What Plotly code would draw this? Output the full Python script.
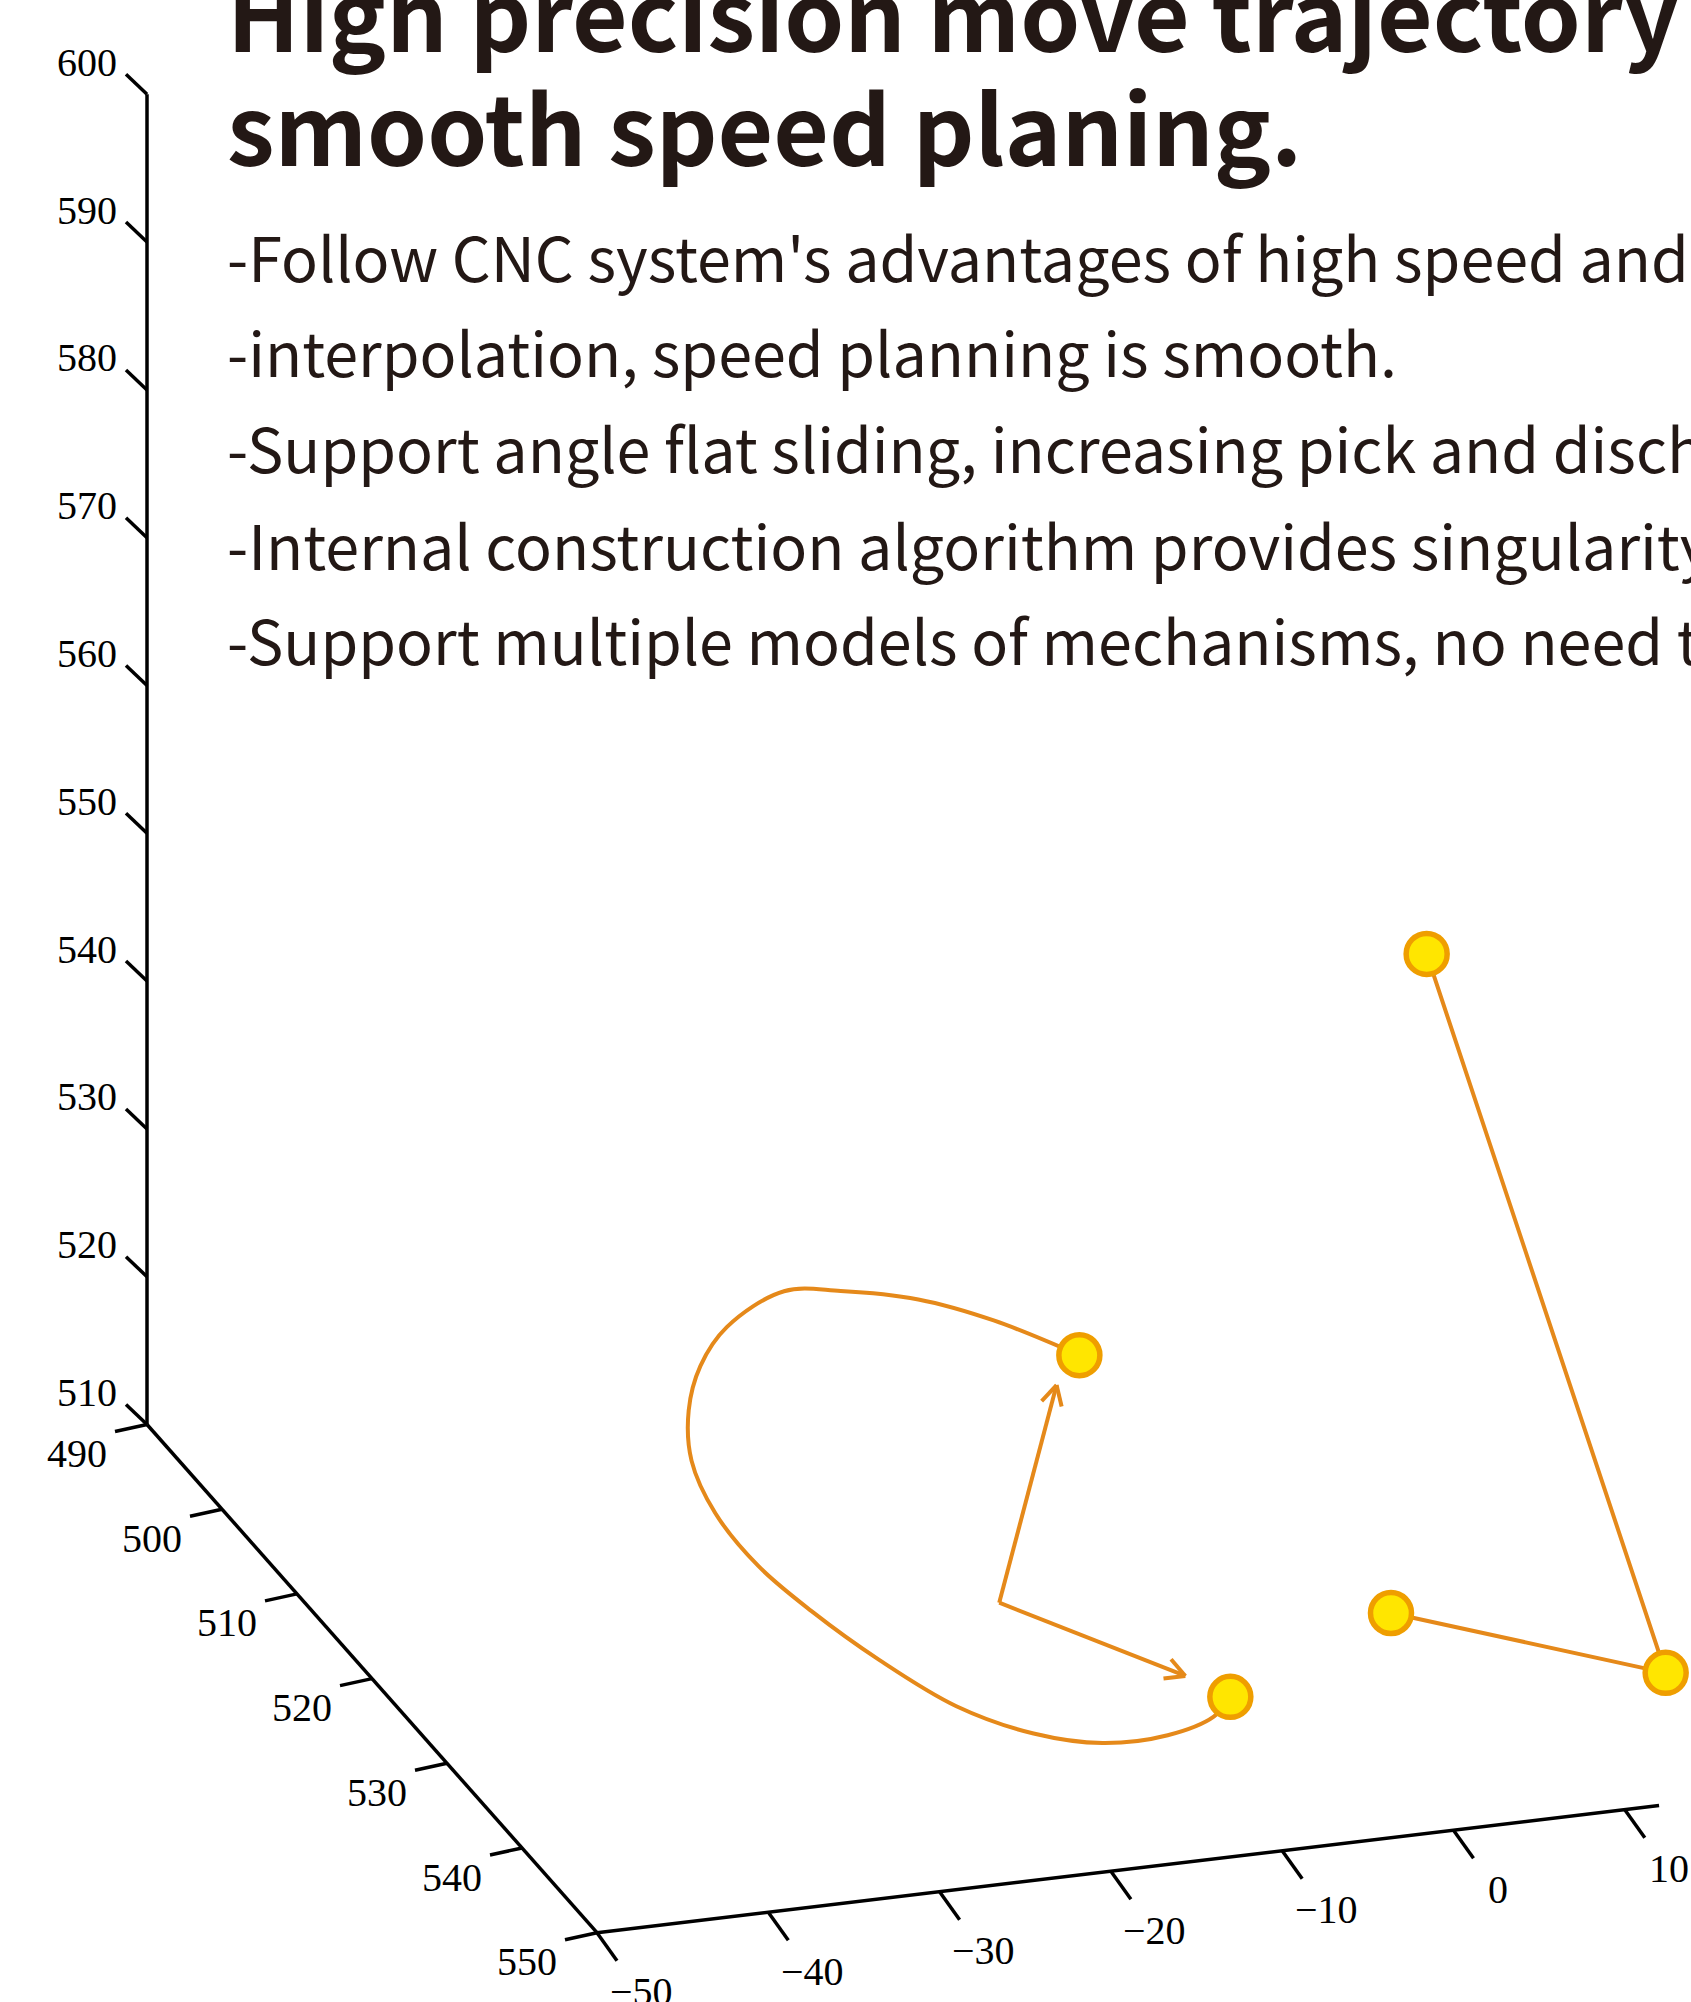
import numpy as np
import plotly.graph_objects as go

# ---------------- data (3-D axis units) ----------------
X_TICKS = [-50, -40, -30, -20, -10, 0, 10]
Y_TICKS = [490, 500, 510, 520, 530, 540, 550]
Z_TICKS = [510, 520, 530, 540, 550, 560, 570, 580, 590, 600]
X_AXIS_END = 12

# circular-interpolation path, from start point A to end point B
ARC_X = [-1.0, -3.9, -6.9, -10.6, -13.6, -18.3, -21.5, -24.2, -26.4, -27.6,
         -27.8, -27.1, -25.8, -23.9, -21.1, -17.9, -14.1, -10.8, -9.0]
ARC_Y = [502.4, 497.6, 494.4, 492.5, 491.8, 494.9, 498.7, 503.3, 508.7, 514.6,
         520.8, 526.3, 532.4, 538.3, 542.2, 544.1, 544.1, 542.7, 540.8]
ARC_Z = [515, 515, 515, 515, 515, 515, 515, 515, 515, 515,
         515, 515, 515, 515, 515, 515, 515, 515, 515]

ARC_CENTER = [-16.8, 527.8, 515]
ARROW_TIP_X = [-3.6, -10.4]
ARROW_TIP_Y = [505.3, 538.0]
ARROW_TIP_Z = [515, 515]

# linear (point-to-point) path
LINE_X = [3.4, 15.1, 5.0]
LINE_Y = [533.9, 543.8, 535.0]
LINE_Z = [515, 515, 560]

TITLE_LINES = ["High precision move trajectory and", "smooth speed planing."]
BODY_LINES = [
    "-Follow CNC system's advantages of high speed and high precision",
    "-interpolation, speed planning is smooth.",
    "-Support angle flat sliding, increasing pick and discharge efficiency.",
    "-Internal construction algorithm provides singularity protection.",
    "-Support multiple models of mechanisms, no need to program.",
]

# ---------------- projection / layout constants ----------------
W, H = 1691, 2002
ORIGIN_PX = (147.0, 1424.5)
EX = (17.13, -2.05)
EY = (7.50, 8.47)
EZ = (0.0, -14.78)
X0, Y0, Z0 = X_TICKS[0], Y_TICKS[0], Z_TICKS[0]


def proj(x, y, z):
    x = np.asarray(x, float) - X0
    y = np.asarray(y, float) - Y0
    z = np.asarray(z, float) - Z0
    px = ORIGIN_PX[0] + x * EX[0] + y * EY[0] + z * EZ[0]
    py = ORIGIN_PX[1] + x * EX[1] + y * EY[1] + z * EZ[1]
    return px, py


AXIS_COLOR = "black"
LINE_COLOR = "#E5891A"
MARK_FILL = "#FFE600"
MARK_EDGE = "#EF9E00"
TEXT_COLOR = "#231815"
TICK_FONT = dict(family="Liberation Serif, DejaVu Serif, serif", size=40, color="#000000")

fig = go.Figure()

# ---- axis lines and ticks ----
ax_x, ax_y = [], []


def add_seg(p, q):
    ax_x.extend([p[0], q[0], None])
    ax_y.extend([p[1], q[1], None])


# z axis (at x=min, y=min)
zx, zy = proj([X0, X0], [Y0, Y0], [Z_TICKS[0], Z_TICKS[-1]])
add_seg((zx[0], zy[0]), (zx[1], zy[1]))
# y axis (at x=min, z=min)
yx, yy = proj([X0, X0], [Y_TICKS[0], Y_TICKS[-1]], [Z0, Z0])
add_seg((yx[0], yy[0]), (yx[1], yy[1]))
# x axis (at y=max, z=min)
xx, xy = proj([X_TICKS[0], X_AXIS_END], [Y_TICKS[-1]] * 2, [Z0, Z0])
add_seg((xx[0], xy[0]), (xx[1], xy[1]))

annotations = []


def label(px, py, text, xanchor="center", font=TICK_FONT, yanchor="middle"):
    annotations.append(dict(x=px / W, y=1 - py / H, xref="paper", yref="paper",
                            text=text, showarrow=False, xanchor=xanchor,
                            yanchor=yanchor, font=font, borderpad=0))


def fmt(v):
    return str(v).replace("-", "\u2212")


Z_TICK_VEC = (-21, -20)
Y_TICK_VEC = (-32, 7)
X_TICK_VEC = (20, 28)

tx, ty = proj([X0] * len(Z_TICKS), [Y0] * len(Z_TICKS), Z_TICKS)
for px, py, v in zip(tx, ty, Z_TICKS):
    add_seg((px, py), (px + Z_TICK_VEC[0], py + Z_TICK_VEC[1]))
    label(px - 29, py - 32, fmt(v), xanchor="right")

tx, ty = proj([X0] * len(Y_TICKS), Y_TICKS, [Z0] * len(Y_TICKS))
for px, py, v in zip(tx, ty, Y_TICKS):
    add_seg((px, py), (px + Y_TICK_VEC[0], py + Y_TICK_VEC[1]))
    label(px - 70, py + 29, fmt(v))

tx, ty = proj(X_TICKS, [Y_TICKS[-1]] * len(X_TICKS), [Z0] * len(X_TICKS))
for px, py, v in zip(tx, ty, X_TICKS):
    add_seg((px, py), (px + X_TICK_VEC[0], py + X_TICK_VEC[1]))
    label(px + 44, py + 59, fmt(v))

fig.add_trace(go.Scatter(x=ax_x, y=ax_y, mode="lines",
                         line=dict(color=AXIS_COLOR, width=3.5), hoverinfo="skip"))

# ---- arc path ----
apx, apy = proj(ARC_X, ARC_Y, ARC_Z)
fig.add_trace(go.Scatter(x=apx, y=apy, mode="lines",
                         line=dict(color=LINE_COLOR, width=4, shape="spline", smoothing=1.0),
                         hoverinfo="skip"))

# ---- arrows from centre to the two arc end points ----
cpx, cpy = proj(*ARC_CENTER)
tpx, tpy = proj(ARROW_TIP_X, ARROW_TIP_Y, ARROW_TIP_Z)
arr_x, arr_y = [], []
HEAD_LEN, HEAD_ANG = 22.0, np.deg2rad(28)
for px, py in zip(tpx, tpy):
    arr_x.extend([float(cpx), px, None])
    arr_y.extend([float(cpy), py, None])
    d = np.array([px - cpx, py - cpy], float)
    d /= np.linalg.norm(d)
    for s in (1, -1):
        c, sn = np.cos(s * HEAD_ANG), np.sin(s * HEAD_ANG)
        r = np.array([c * d[0] - sn * d[1], sn * d[0] + c * d[1]])
        arr_x.extend([px - HEAD_LEN * r[0], px, None])
        arr_y.extend([py - HEAD_LEN * r[1], py, None])
fig.add_trace(go.Scatter(x=arr_x, y=arr_y, mode="lines",
                         line=dict(color=LINE_COLOR, width=4), hoverinfo="skip"))

# ---- linear path ----
lpx, lpy = proj(LINE_X, LINE_Y, LINE_Z)
fig.add_trace(go.Scatter(x=lpx, y=lpy, mode="lines",
                         line=dict(color=LINE_COLOR, width=4), hoverinfo="skip"))

# ---- way-point markers ----
mx = [apx[0], apx[-1]] + list(lpx)
my = [apy[0], apy[-1]] + list(lpy)
fig.add_trace(go.Scatter(x=mx, y=my, mode="markers",
                         marker=dict(size=41, color=MARK_FILL,
                                     line=dict(color=MARK_EDGE, width=5.5)),
                         hoverinfo="skip"))

# ---- texts ----
TITLE_FONT = dict(family="Noto Sans CJK SC, Noto Sans, sans-serif", size=96, color=TEXT_COLOR)
BODY_FONT = dict(family="Noto Sans CJK SC, Noto Sans, sans-serif", size=61, color=TEXT_COLOR)
TITLE_BASELINES = [52, 166]
BODY_BASELINES = [282, 377, 473, 570, 665]
for t, b in zip(TITLE_LINES, TITLE_BASELINES):
    label(226, b - 0.436 * TITLE_FONT["size"], "<b>" + t + "</b>", xanchor="left", font=TITLE_FONT)
for t, b in zip(BODY_LINES, BODY_BASELINES):
    label(226, b - 0.436 * BODY_FONT["size"], t, xanchor="left", font=BODY_FONT)

fig.update_layout(
    width=W, height=H, margin=dict(l=0, r=0, t=0, b=0, pad=0),
    paper_bgcolor="white", plot_bgcolor="white", showlegend=False,
    xaxis=dict(range=[0, W], visible=False, fixedrange=True),
    yaxis=dict(range=[H, 0], visible=False, fixedrange=True),
    annotations=annotations,
)

fig.write_html("out.html", config={"displayModeBar": False},
               post_script="document.body.style.margin='0px';document.body.style.overflow='hidden';")
